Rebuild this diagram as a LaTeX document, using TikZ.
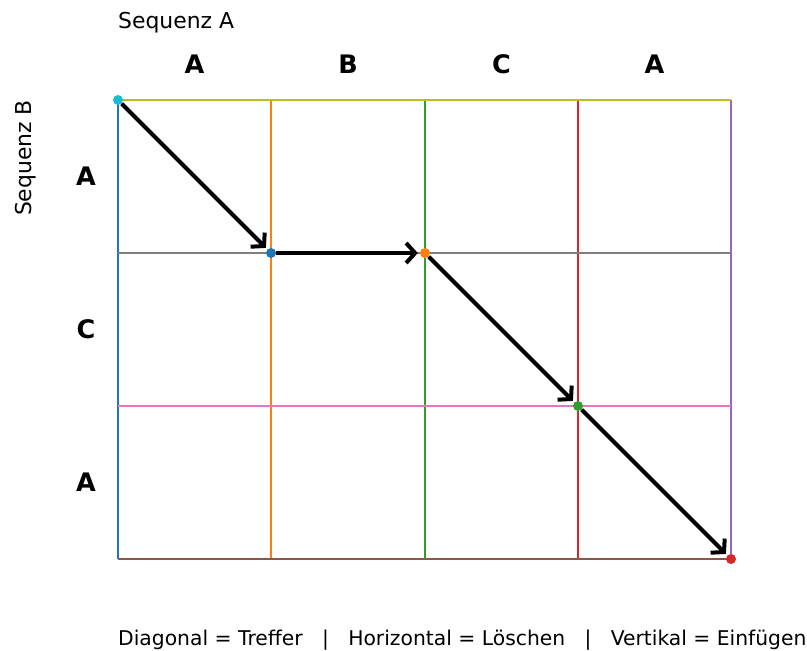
\documentclass[tikz,border=0pt]{standalone}
\usepackage{fontspec}
\setmainfont{DejaVu Sans}
\usepackage{xcolor}
\usepackage{tikz}
\usetikzlibrary{arrows.meta}

\definecolor{tabblue}{HTML}{1F77B4}
\definecolor{taborange}{HTML}{FF7F0E}
\definecolor{tabgreen}{HTML}{2CA02C}
\definecolor{tabred}{HTML}{D62728}
\definecolor{tabpurple}{HTML}{9467BD}
\definecolor{tabbrown}{HTML}{8C564B}
\definecolor{tabpink}{HTML}{E377C2}
\definecolor{tabgray}{HTML}{7F7F7F}
\definecolor{tabolive}{HTML}{BCBD22}
\definecolor{tabcyan}{HTML}{17BECF}

\begin{document}
\begin{tikzpicture}[x=1pt,y=-1pt,
    gridline/.style={line width=1.6pt},
    dot/.style={circle,fill=#1,inner sep=0pt,minimum size=10pt},
    move/.style={line width=4pt,shorten >=2pt,-{Straight Barb[length=9pt,width=20pt]}},
    letter/.style={font=\fontsize{25.5}{30}\selectfont\bfseries,inner sep=0pt},
    title/.style={font=\fontsize{21.9}{26}\selectfont,inner sep=0pt},
    caption/.style={font=\fontsize{20.3}{24}\selectfont,inner sep=0pt}]
  \useasboundingbox (0,0) rectangle (807,651);
  % columns (Sequenz A) and rows (Sequenz B)
  \draw[gridline,tabblue] (118,100) -- (118,559);
  \draw[gridline,taborange] (271,100) -- (271,559);
  \draw[gridline,tabgreen] (425,100) -- (425,559);
  \draw[gridline,tabred] (578,100) -- (578,559);
  \draw[gridline,tabpurple] (731,100) -- (731,559);
  \draw[gridline,tabolive] (118,100) -- (731,100);
  \draw[gridline,tabgray] (118,253) -- (731,253);
  \draw[gridline,tabpink] (118,406) -- (731,406);
  \draw[gridline,tabbrown] (118,559) -- (731,559);
  % alignment path
  \node[dot=tabcyan] (p0) at (118,100) {};
  \node[dot=tabblue] (p1) at (271,253) {};
  \node[dot=taborange] (p2) at (425,253) {};
  \node[dot=tabgreen] (p3) at (578,406) {};
  \node[dot=tabred] (p4) at (731,559) {};
  \draw[move] (p0) -- (p1);
  \draw[move] (p1) -- (p2);
  \draw[move] (p2) -- (p3);
  \draw[move] (p3) -- (p4);
  % labels
  \node[title,anchor=base west] (seqA) at (118,28) {Sequenz A};
  \node[title,anchor=base,rotate=90] (seqB) at (31,158) {Sequenz B};
  \node[letter] (a1) at (194.5,64) {A};
  \node[letter] (a2) at (348,64) {B};
  \node[letter] (a3) at (501.5,64) {C};
  \node[letter] (a4) at (654.5,64) {A};
  \node[letter] (b1) at (86,176.5) {A};
  \node[letter] (b2) at (86,329.5) {C};
  \node[letter] (b3) at (86,482.5) {A};
  \node[caption,anchor=base west] (legend) at (118,645)
    {Diagonal = Treffer\ \ \ |\ \ \ Horizontal = Löschen\ \ \ |\ \ \ Vertikal = Einfügen};
\end{tikzpicture}
\end{document}
